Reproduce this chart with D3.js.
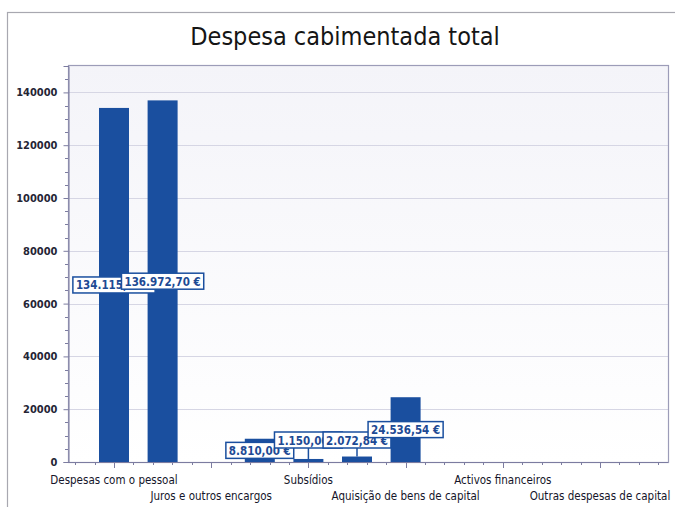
<!DOCTYPE html>
<html><head><meta charset="utf-8">
<script src="https://cdn.jsdelivr.net/npm/d3@7/dist/d3.min.js"></script>
<style>body{margin:0;background:#fff}svg{display:block}</style>
</head><body>
<svg id="c" width="675" height="507"></svg>
<script>
const categories = [
  "Despesas com o pessoal",
  "Aquisição de bens e serviços",
  "Juros e outros encargos",
  "Transferências correntes",
  "Subsídios",
  "Outras despesas correntes",
  "Aquisição de bens de capital",
  "Transferências de capital",
  "Activos financeiros",
  "Passivos financeiros",
  "Outras despesas de capital"
];
const values = [134115.00, 136972.70, 0, 8810.00, 1150.00, 2072.84, 24536.54, 0, 0, 0, 0];
const yTicks = [0, 20000, 40000, 60000, 80000, 100000, 120000, 140000];
const title = "Despesa cabimentada total";

const svg = d3.select("#c");
const P = {left: 68, right: 668, top: 65, bottom: 462};
const blue = "#1a4f9f";
const fmt = v => d3.formatLocale({decimal: ",", thousands: ".", grouping: [3], currency: ["", " €"]}).format("$,.2f")(v);

// outer border
svg.append("rect").attr("x", 7.5).attr("y", 12.5).attr("width", 700).attr("height", 520)
  .attr("fill", "none").attr("stroke", "#a8a8b0").attr("stroke-width", 1.2);

// title
svg.append("text").attr("x", 345).attr("y", 45).attr("text-anchor", "middle")
  .attr("font-family", "DejaVu Sans Condensed, DejaVu Sans").attr("font-size", 25).attr("fill", "#151515")
  .text(title);

// plot background gradient
const defs = svg.append("defs");
const g = defs.append("linearGradient").attr("id", "bg").attr("x1", 0).attr("x2", 0).attr("y1", 0).attr("y2", 1);
g.append("stop").attr("offset", "0%").attr("stop-color", "#f4f4f9");
g.append("stop").attr("offset", "100%").attr("stop-color", "#ffffff");
svg.append("rect").attr("x", P.left).attr("y", P.top).attr("width", P.right - P.left).attr("height", P.bottom - P.top)
  .attr("fill", "url(#bg)");

const y = d3.scaleLinear().domain([0, 150000]).range([P.bottom, P.top + 1]);
const x = d3.scalePoint().domain(categories).range([114, 600]);
const barW = 30;

// gridlines
svg.append("g").selectAll("line").data(yTicks.filter(d => d > 0)).join("line")
  .attr("x1", P.left).attr("x2", P.right).attr("y1", d => Math.round(y(d)) + 0.5).attr("y2", d => Math.round(y(d)) + 0.5)
  .attr("stroke", "#d6d6e4").attr("stroke-width", 1);

// plot border
svg.append("rect").attr("x", P.left + 0.5).attr("y", P.top + 0.5).attr("width", P.right - P.left).attr("height", P.bottom - P.top)
  .attr("fill", "none").attr("stroke", "#9c9cb8").attr("stroke-width", 1.2);

// y axis
const yAxis = d3.axisLeft(y).tickValues(yTicks).tickSize(5).tickPadding(6).tickFormat(d3.format("d"));
const ya = svg.append("g").attr("transform", `translate(${P.left + 0.5},0)`).call(yAxis);
ya.select(".domain").attr("stroke", "#7c7ca0");
ya.selectAll(".tick line").attr("stroke", "#7c7ca0");
ya.selectAll("text").attr("font-family", "DejaVu Sans Condensed, DejaVu Sans").attr("font-size", 11)
  .attr("font-weight", "bold").attr("fill", "#252535");
// y minor ticks
svg.append("g").selectAll("line").data(d3.range(0, 150001, 5000).filter(d => d % 20000 !== 0)).join("line")
  .attr("x1", P.left - 3).attr("x2", P.left).attr("y1", d => Math.round(y(d)) + 0.5).attr("y2", d => Math.round(y(d)) + 0.5)
  .attr("stroke", "#7c7ca0");

// x axis ticks: major on labelled categories, minor in between
const step = x.step() * 2;
const x0 = x(categories[0]);
const tickPos = d3.range(-2, 31).map(k => ({pos: x0 + k * step / 5, major: k % 5 === 0}))
  .filter(t => t.pos > P.left + 2 && t.pos < P.right - 2);
svg.append("g").selectAll("line").data(tickPos).join("line")
  .attr("x1", d => Math.round(d.pos) + 0.5).attr("x2", d => Math.round(d.pos) + 0.5)
  .attr("y1", P.bottom).attr("y2", d => P.bottom + (d.major ? 6 : 3))
  .attr("stroke", "#7c7ca0");
svg.append("line").attr("x1", P.left).attr("x2", P.right).attr("y1", P.bottom + 0.5).attr("y2", P.bottom + 0.5)
  .attr("stroke", "#7c7ca0").attr("stroke-width", 1.2);

// x labels (every other category, staggered)
svg.append("g").selectAll("text").data(categories.filter((c, i) => i % 2 === 0)).join("text")
  .attr("x", d => x(d)).attr("y", (d, i) => i % 2 === 0 ? 484 : 500)
  .attr("text-anchor", "middle").attr("font-family", "DejaVu Sans Condensed, DejaVu Sans").attr("font-size", 11.5)
  .attr("fill", "#15152a").text(d => d);

// bars
const data = categories.map((c, i) => ({c, v: values[i]})).filter(d => d.v > 0);
svg.append("g").selectAll("rect").data(data).join("rect")
  .attr("x", d => x(d.c) - barW / 2).attr("width", barW)
  .attr("y", d => y(d.v)).attr("height", d => y(0) - y(d.v))
  .attr("fill", blue);

// labels
const lh = 16;
const lg = svg.append("g");
data.forEach(d => {
  const h = y(0) - y(d.v);
  const mid = (y(0) + y(d.v)) / 2;
  const small = h < lh;
  const cy = small ? y(0) - 22 : mid;
  const cx = x(d.c);
  const grp = lg.append("g");
  if (small) {
    grp.append("line").attr("x1", cx).attr("x2", cx).attr("y1", y(d.v)).attr("y2", cy + lh / 2)
      .attr("stroke", blue).attr("stroke-width", 1.5);
  }
  const t = grp.append("text").attr("x", cx).attr("y", cy + 4.5).attr("text-anchor", "middle")
    .attr("font-family", "DejaVu Sans Condensed, DejaVu Sans").attr("font-size", 11.5).attr("font-weight", "bold")
    .attr("fill", "#1d4a94").text(fmt(d.v));
  const bb = t.node().getBBox();
  grp.insert("rect", "text").attr("x", bb.x - 3).attr("y", cy - lh / 2).attr("width", bb.width + 6).attr("height", lh)
    .attr("fill", "#fff").attr("stroke", blue).attr("stroke-width", 1.5);
});
</script>
</body></html>
